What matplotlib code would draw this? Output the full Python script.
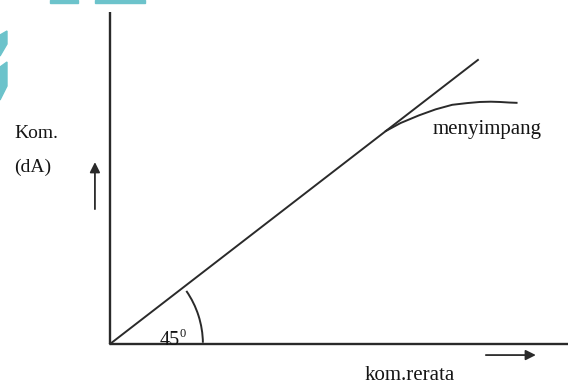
import matplotlib
matplotlib.use("Agg")
import matplotlib.pyplot as plt
from matplotlib.patches import Arc, Polygon, Rectangle

# ideal line: deviation equals average deviation (45 degrees)
ideal_x = [0.0, 10.0]
ideal_y = [0.0, 10.0]

# branch that drifts away from the ideal line
dev_x = [7.5, 7.9, 8.4, 8.85, 9.3, 9.7, 10.05, 10.35, 10.6, 10.85, 11.05]
dev_y = [7.5, 7.78, 8.05, 8.26, 8.42, 8.48, 8.52, 8.53, 8.52, 8.5, 8.49]

# axis extents
x_axis_end = 12.45
y_axis_end = 11.7

ink = "#2a2a2a"
text_ink = "#151515"
serif = ["Liberation Serif", "DejaVu Serif"]

fig = plt.figure(figsize=(5.78, 3.85), dpi=100)
ax = fig.add_axes([0, 0, 1, 1])
ax.set_xlim(-2.99, 12.72)
ax.set_ylim(-1.444, 12.11)
ax.set_axis_off()

# axes of the diagram
ax.plot([0, x_axis_end], [0, 0], color=ink, lw=1.7, solid_capstyle="butt")
ax.plot([0, 0], [0, y_axis_end], color=ink, lw=1.7, solid_capstyle="butt")

ax.plot(ideal_x, ideal_y, color=ink, lw=1.4)
ax.plot(dev_x, dev_y, color=ink, lw=1.4)

# angle marker
ax.add_patch(Arc((0, 0), 5.05, 6.55, theta1=1, theta2=42, color=ink, lw=1.4))

# direction arrows
ax.annotate("", xy=(-0.41, 6.5), xytext=(-0.41, 4.65),
            arrowprops=dict(arrowstyle="-|>", color=ink, lw=1.3,
                            mutation_scale=15))
ax.annotate("", xy=(11.65, -0.39), xytext=(10.14, -0.39),
            arrowprops=dict(arrowstyle="-|>", color=ink, lw=1.3,
                            mutation_scale=15))

ax.text(-2.61, 7.25, "Kom.", family=serif, fontsize=14, color=text_ink)
ax.text(-2.61, 6.06, "(dA)", family=serif, fontsize=14, color=text_ink)
ax.text(8.78, 7.39, "menyimpang", family=serif, fontsize=15, color=text_ink)
ax.text(6.93, -1.27, "kom.rerata", family=serif, fontsize=15, color=text_ink)
ax.text(1.36, -0.04, "45", family=serif, fontsize=14.5, color=text_ink)
ax.text(1.9, 0.23, "0", family=serif, fontsize=9, color=text_ink)

# cyan bits of the page edge
cyan = "#6cc3cb"
W, H = 578.0, 385.0
for x0, x1 in [(50, 78), (95, 145)]:
    fig.patches.append(Rectangle((x0 / W, 1 - 2.5 / H), (x1 - x0) / W, 2.5 / H,
                                 transform=fig.transFigure, color=cyan))
for pts in [[(0, 35), (7, 31), (7, 44), (0, 56)],
            [(0, 67), (7, 62), (7, 86), (0, 100)]]:
    fig.patches.append(Polygon([(x / W, 1 - y / H) for x, y in pts],
                               transform=fig.transFigure, color=cyan))

fig.savefig("out.png", dpi=100)
